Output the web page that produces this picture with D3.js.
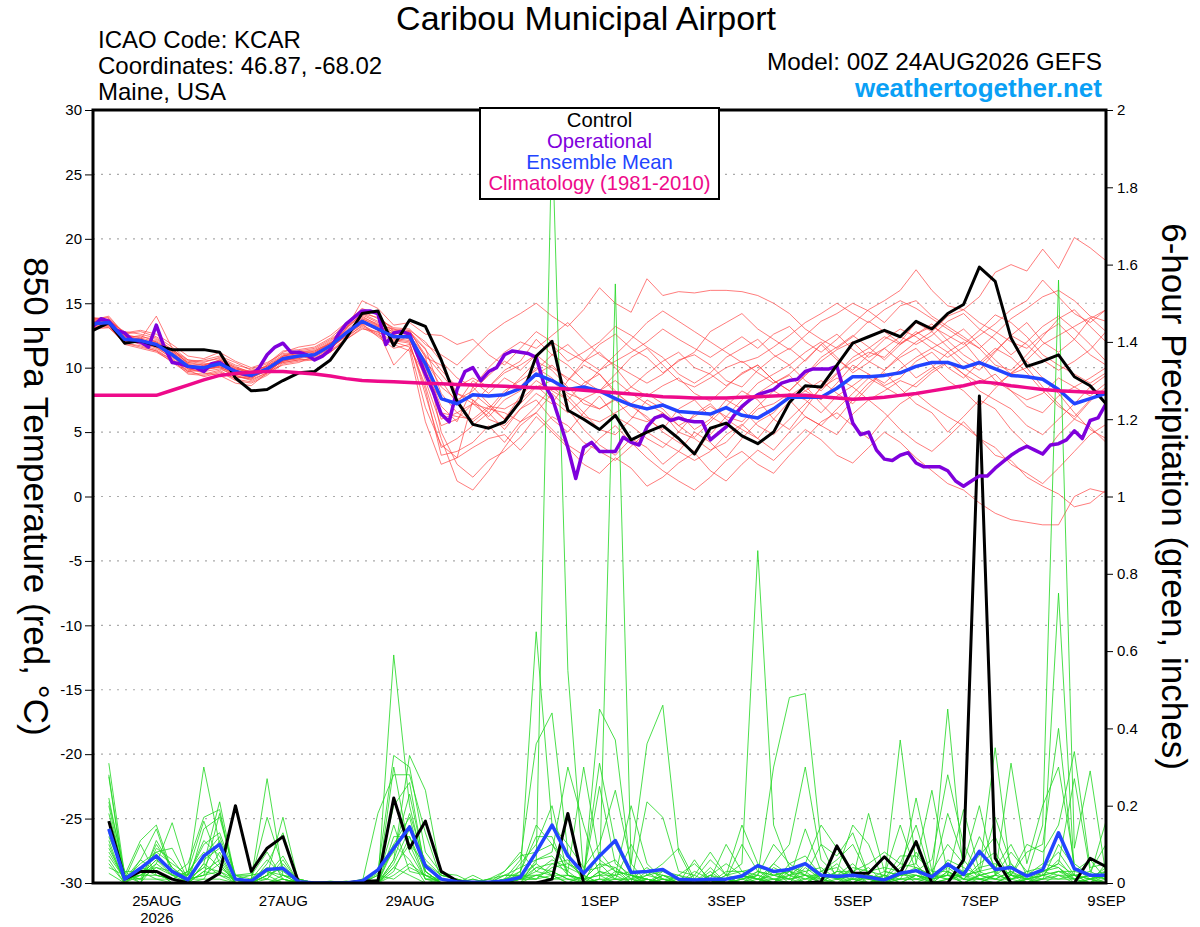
<!DOCTYPE html>
<html>
<head>
<meta charset="utf-8">
<script src="https://cdn.jsdelivr.net/npm/d3@7"></script>
<style>
body { margin: 0; background: #fff; }
svg text { font-family: "Liberation Sans", Arial, Helvetica, sans-serif; fill: #000; }
</style>
</head>
<body>
<svg id="chart" width="1200" height="927"></svg>
<script>
// 850 hPa temperature, 6-hourly from 00Z 24AUG2026 (65 steps)
const controlTemp = [12.9,13.5,11.9,12.1,11.7,11.4,11.4,11.4,11.2,9.2,8.2,8.3,9.0,9.6,9.7,10.6,12.3,14.2,14.4,11.7,13.7,13.2,
  10.6,7.4,5.6,5.3,5.8,7.4,10.9,12.05,6.7,6.0,5.2,6.3,4.4,5.0,5.5,4.5,3.3,5.3,5.7,4.7,4.1,
  5.0,7.3,8.6,8.5,10.2,11.9,12.4,12.9,12.4,13.6,13.0,14.2,14.9,17.8,16.7,12.3,10.1,10.5,11.0,9.3,8.6,7.2]
const meanTemp = [13.4,13.5,12.2,12.1,11.8,11.0,10.1,10.0,10.3,9.7,9.4,9.9,10.7,10.9,11.0,11.7,12.7,13.6,13.0,12.4,12.4,10.3,
  7.6,7.2,7.9,7.8,7.9,8.4,9.5,9.0,8.3,8.5,8.2,7.6,7.1,6.8,7.1,6.6,6.5,6.4,6.9,6.3,6.1,
  6.8,7.7,7.7,7.7,8.4,9.3,9.3,9.4,9.6,10.1,10.4,10.4,10.0,10.4,9.9,9.4,9.3,9.1,8.3,7.2,7.6,8.0]
const climTemp = [7.85,7.85,7.85,7.85,7.85,8.25,8.65,9.05,9.4,9.55,9.65,9.7,9.7,9.6,9.5,9.35,9.15,9.0,8.95,8.9,8.85,8.8,
  8.75,8.7,8.65,8.6,8.55,8.5,8.45,8.4,8.35,8.25,8.15,8.05,7.95,7.85,7.75,7.7,7.65,7.65,7.65,7.7,7.75,
  7.8,7.85,7.85,7.75,7.65,7.55,7.6,7.7,7.85,8.0,8.2,8.4,8.6,8.9,8.8,8.6,8.45,8.3,8.2,8.15,8.1,8.1]
// operational run is 3-hourly (129 steps)
const operTemp = [13.2,13.8,13.6,12.9,12.7,12.1,12.0,11.6,13.3,11.6,10.4,10.3,10.1,10.0,9.7,10.3,10.4,10.0,9.7,9.5,9.4,10.0,
  11.0,11.6,11.9,11.2,11.2,11.0,10.6,10.9,11.4,12.6,13.4,13.9,14.4,14.4,14.2,11.8,12.7,12.8,12.6,11.0,9.5,
  8.1,6.4,5.8,8.3,9.7,10.0,9.0,9.7,10.0,11.0,11.3,11.2,11.1,10.8,8.7,7.7,5.8,3.8,1.4,3.8,4.2,3.5,3.5,3.5,
  4.6,4.2,4.0,5.4,6.1,6.3,5.9,6.1,5.9,5.8,5.8,4.4,4.9,5.4,6.3,7.0,7.5,7.9,
  8.1,8.3,8.8,9.0,9.1,9.7,9.9,9.9,9.9,10.1,8.0,5.7,4.8,5.0,3.6,2.9,2.8,3.2,3.4,2.6,2.3,2.3,2.3,2.0,
  1.2,0.8,1.2,1.6,1.6,2.2,2.7,3.2,3.6,3.9,3.6,3.3,4.0,4.1,4.4,5.1,4.5,5.9,6.1,7.2]

// ensemble members (one row per member, 65 steps)
const ensTemp = [
  [13.8,13.9,12.6,12.8,12.4,11.6,10.6,10.4,10.8,10.2,9.9,10.3,11.3,11.4,11.6,12.3,13.4,14.4,13.8,13.1,13.0,11.8,11.0,10.2,11.4,12.6,13.5,14.2,15.0,14.0,13.2,14.5,16.2,15.0,14.3,16.9,15.6,15.9,15.8,16.0,16.0,15.9,15.6,15.0,14.2,13.0,12.2,11.5,12.4,13.6,12.8,11.9,12.6,13.4,12.1,11.0,10.2,11.3,12.5,11.8,10.6,9.8,10.5,11.4,12.8],
  [13.1,13.2,11.9,11.6,11.3,10.4,9.6,9.5,9.8,9.1,8.9,9.5,10.4,10.6,10.7,11.4,12.6,13.8,13.2,12.8,12.2,9.5,6.5,6.2,6.0,7.0,6.0,7.2,8.5,9.0,7.8,6.5,5.2,4.8,6.0,7.5,6.8,5.5,4.6,5.8,7.0,8.2,7.5,6.0,5.2,6.8,8.5,9.6,10.5,11.2,10.8,12.0,13.5,12.8,14.0,14.5,15.5,17.4,18.0,17.5,19.2,17.7,20.1,19.3,18.3],
  [13.6,13.4,12.4,12.2,14.0,11.5,10.3,9.8,10.5,9.9,9.6,9.8,10.5,10.8,11.1,11.6,12.4,13.2,12.6,11.9,12.5,10.9,5.0,2.5,1.5,2.8,3.5,4.6,6.2,5.0,3.8,2.5,1.8,3.0,2.2,0.8,1.5,2.6,3.4,2.0,1.2,2.5,3.6,2.8,4.0,5.2,4.4,3.2,2.6,3.8,5.0,4.2,3.0,2.0,1.0,0.5,-0.5,-1.3,-1.8,-2.0,-2.2,-2.2,0.0,0.6,0.3],
  [13.2,13.8,12.0,12.3,11.6,10.7,9.7,10.2,10.0,9.3,9.1,10.2,11.0,11.2,11.3,12.0,13.2,14.1,13.5,12.9,12.8,11.0,9.5,8.0,7.5,6.0,5.5,6.8,8.0,7.2,9.0,10.2,9.5,8.2,7.0,6.2,5.0,4.2,3.5,4.8,6.2,7.5,8.8,9.5,10.2,9.0,8.2,9.5,10.8,11.5,12.4,11.8,12.6,13.2,12.5,11.8,12.9,14.1,13.5,12.4,11.0,10.2,9.5,8.8,9.6],
  [13.5,13.6,12.5,11.9,12.1,11.3,10.4,10.6,10.9,10.4,9.8,10.1,10.9,11.1,10.8,11.5,12.5,13.4,12.4,11.5,11.8,8.6,4.5,1.2,0.5,2.0,3.8,5.5,6.5,8.0,6.8,5.2,4.0,3.2,4.5,3.8,2.5,3.5,5.0,4.2,3.0,4.5,5.8,6.5,7.8,8.6,7.2,6.0,7.5,8.8,9.6,8.4,7.2,6.5,5.0,6.2,7.5,6.8,5.2,4.0,3.2,4.8,6.0,5.4,4.2],
  [13.3,13.1,12.1,12.0,11.5,10.8,9.9,9.6,9.4,8.8,8.6,9.6,10.6,10.7,11.2,11.9,12.9,13.9,13.4,12.2,12.0,7.9,3.8,4.5,5.5,6.5,5.2,6.8,7.5,6.0,5.0,6.5,7.8,6.2,5.5,4.5,3.8,5.0,6.4,7.2,6.0,5.2,4.5,6.0,7.4,8.2,9.0,8.0,7.2,8.5,9.8,10.8,11.5,10.2,9.0,8.2,7.0,8.4,9.6,10.5,9.2,8.0,6.5,5.2,4.5],
  [13.7,13.5,12.3,12.5,12.0,11.2,10.2,10.1,10.6,10.0,9.5,9.7,10.2,10.4,10.9,11.8,13.0,15.2,14.6,13.3,13.5,12.6,12.5,11.8,12.2,11.0,10.2,11.5,12.8,12.0,11.2,10.5,11.8,12.6,11.5,10.8,9.6,10.5,11.2,12.8,13.5,14.2,13.0,12.2,11.4,12.5,13.6,14.2,15.0,14.4,13.5,14.8,15.2,14.0,13.2,12.4,11.5,10.2,9.8,11.0,12.4,13.8,14.5,13.2,12.0],
  [13.0,13.4,12.2,11.8,11.4,10.6,9.8,9.3,9.6,9.2,9.3,10.0,10.8,11.0,10.6,11.2,12.2,13.0,12.8,12.0,11.6,6.9,4.0,3.0,7.5,6.5,8.0,9.2,10.5,9.8,8.5,7.2,6.8,7.5,6.2,5.8,6.5,5.0,4.5,3.6,4.2,5.5,6.8,7.2,8.0,7.5,6.5,7.8,8.6,9.5,8.8,9.9,10.8,11.5,12.2,13.0,11.8,10.6,9.5,10.0,8.5,7.2,6.0,7.4,8.5],
  [13.9,13.7,12.7,12.9,12.6,11.8,10.9,10.7,11.2,10.5,10.0,10.4,11.1,11.2,11.4,12.1,13.1,14.0,13.3,12.6,12.9,12.0,10.5,9.2,8.5,10.0,11.2,12.0,11.5,12.5,13.5,12.2,11.0,10.2,9.5,8.8,9.5,10.6,11.0,10.2,9.0,8.5,9.8,10.8,11.5,10.5,11.8,12.6,11.4,10.5,9.8,11.0,12.0,12.8,11.6,10.5,9.8,11.2,12.5,13.5,12.0,11.2,12.2,13.8,14.5],
  [13.4,13.6,12.3,12.0,11.9,11.1,10.0,9.9,10.1,9.5,9.2,9.8,10.5,10.9,11.0,11.6,12.6,13.5,12.9,12.3,12.1,10.0,7.0,5.8,8.5,7.2,6.0,7.8,9.0,8.2,7.5,8.8,9.5,8.0,7.2,6.0,5.2,6.8,7.5,6.2,5.5,6.8,8.0,8.8,9.4,8.2,7.5,8.8,10.2,9.5,8.6,9.2,10.5,11.2,10.0,9.2,10.4,11.5,10.8,9.6,8.2,7.0,6.2,7.5,8.2],
  [13.2,13.3,11.8,11.5,11.2,10.5,9.7,9.8,10.2,9.6,9.4,9.9,10.9,11.3,11.5,12.2,13.1,14.2,13.9,13.0,12.6,9.0,5.5,6.0,7.2,6.2,7.5,8.2,9.5,10.2,9.0,10.5,11.2,10.0,8.5,7.8,8.6,9.2,8.0,7.4,8.5,9.6,10.2,9.0,8.2,9.4,10.5,11.4,12.0,10.8,11.5,12.4,11.8,12.5,13.6,14.2,13.0,12.2,11.0,12.0,13.2,14.0,13.0,11.8,10.5],
  [13.6,13.7,12.4,12.4,12.2,11.4,10.5,10.3,10.4,9.9,9.7,10.0,10.4,10.6,10.7,11.3,12.3,13.3,12.7,12.5,12.3,10.6,8.5,7.5,8.2,9.4,10.5,9.8,11.0,11.8,10.5,11.2,12.0,13.2,12.5,11.6,10.8,9.5,8.8,9.6,10.8,11.5,12.2,11.0,10.2,11.2,12.0,10.8,9.6,10.4,11.5,10.5,9.2,10.0,11.2,12.0,10.5,9.0,8.2,7.5,8.0,9.2,8.5,7.8,8.8],
  [13.1,13.3,12.0,12.1,11.7,10.9,9.9,9.7,9.9,9.4,9.0,9.6,10.6,10.8,11.1,11.9,12.8,13.7,13.1,12.1,11.9,8.3,3.2,3.5,4.2,5.5,4.2,5.8,6.5,5.2,4.0,3.2,4.5,5.5,4.2,3.0,2.0,1.2,0.5,1.5,2.8,3.5,2.5,1.8,3.2,4.5,5.8,6.5,5.5,4.5,6.0,7.2,8.0,7.0,6.2,5.5,4.5,3.8,2.5,1.8,1.0,2.2,3.5,4.8,5.6],
  [13.8,13.6,12.8,12.6,12.3,11.4,10.6,10.5,10.7,10.1,9.6,10.2,11.2,11.6,11.8,12.5,13.5,14.6,14.1,12.8,12.7,11.4,9.8,8.5,9.2,8.5,9.6,10.2,11.0,10.0,9.2,8.5,9.8,10.5,11.2,12.0,13.0,12.2,11.5,10.8,11.6,12.4,11.5,12.6,13.2,12.0,11.2,12.2,13.4,14.5,15.2,16.0,17.6,16.0,14.8,14.5,13.5,12.8,12.0,11.5,12.6,13.4,12.2,11.0,10.2],
  [13.3,13.4,12.1,11.9,11.6,10.9,10.0,9.9,10.0,9.6,9.3,9.7,10.5,10.7,10.9,11.5,12.5,13.4,13.0,12.4,12.6,9.8,6.0,6.5,7.2,6.8,6.5,5.8,7.0,8.5,7.5,6.2,5.8,6.5,7.2,8.0,7.2,6.5,5.2,6.0,7.5,6.8,5.5,4.8,6.0,7.2,8.4,9.2,8.5,7.5,8.2,9.0,8.5,9.6,10.4,9.5,8.8,9.5,8.2,7.0,6.5,7.8,8.5,9.2,10.0],
  [13.5,13.8,12.5,12.2,11.9,11.2,10.3,10.2,10.5,9.8,9.5,10.0,10.8,11.0,11.3,11.9,12.8,13.8,13.3,13.0,12.9,10.8,10.2,8.0,7.2,8.5,9.8,10.5,12.2,11.0,10.2,9.0,8.2,9.5,10.8,11.5,10.2,9.0,8.5,9.2,10.0,10.5,9.6,8.8,9.5,10.6,11.8,10.6,9.8,11.0,12.2,13.0,12.4,11.5,10.8,11.6,12.5,13.4,14.5,15.2,16.8,15.5,14.2,13.5,14.5],
  [13.0,13.1,11.9,11.7,11.3,10.6,9.5,9.4,9.7,9.0,8.8,9.4,10.3,10.5,10.6,11.2,12.2,13.1,12.5,11.8,11.3,5.8,2.5,3.0,3.8,4.5,4.8,3.6,5.0,6.2,5.5,4.2,3.5,2.8,3.9,5.0,4.2,3.5,2.8,3.5,4.8,5.6,4.5,3.6,5.0,6.2,5.5,4.8,6.4,7.5,6.5,5.2,4.2,3.5,4.6,5.8,4.5,3.2,2.8,1.5,0.8,0.2,-0.8,-0.5,0.5],
  [13.7,14.0,12.6,12.3,12.0,11.3,10.4,10.2,10.6,10.0,9.7,10.1,10.9,11.1,11.2,11.9,13.0,14.2,13.6,12.7,12.8,11.5,8.0,6.5,5.8,6.8,8.2,9.0,9.8,11.0,11.8,10.6,9.8,11.0,12.2,13.5,14.4,13.6,12.8,12.0,11.2,10.4,10.8,11.6,12.5,13.5,14.2,15.0,14.2,13.5,14.5,15.2,14.6,13.8,13.0,12.2,11.5,12.6,13.8,14.6,15.5,16.0,15.2,14.0,13.6],
  [13.4,13.5,12.2,12.0,11.7,11.0,10.1,10.0,10.2,9.6,9.2,9.8,10.6,10.9,11.0,11.7,12.7,13.6,12.9,10.2,11.5,9.4,7.5,7.2,8.0,7.0,6.8,7.5,8.6,7.5,6.5,7.6,8.2,9.0,8.0,7.2,6.5,5.5,6.2,7.0,6.2,5.8,7.0,8.2,7.5,6.2,5.5,6.8,8.0,9.2,8.5,7.8,8.8,9.8,10.5,9.5,8.2,7.5,6.8,5.5,4.8,6.0,7.2,8.5,9.4],
  [13.6,13.3,12.3,12.1,11.8,10.9,10.0,9.8,10.1,9.4,9.1,9.6,10.6,10.9,11.0,11.6,12.6,13.5,13.2,12.6,12.2,10.5,9.0,7.2,9.0,8.0,9.2,8.5,10.0,9.2,8.0,7.5,6.8,7.6,8.5,9.6,10.5,11.2,10.0,9.5,8.6,9.5,10.2,9.0,8.2,9.4,10.8,11.6,12.5,11.6,10.6,11.8,12.8,12.0,11.2,10.0,9.2,8.6,9.5,10.6,11.8,12.5,13.2,13.9,12.8]
]

// 6-hour precipitation (inches), steps from 06Z 24AUG to 00Z 9SEP (64 steps)
const controlPrecip = [0.16,0.01,0.03,0.03,0.01,0,0,0.025,0.2,0.03,
  0.09,0.12,0,0,0,0,0.005,0.005,0.22,0.09,
  0.16,0.03,0.005,0,0,0,0,0,0.01,0.18,
  0,0,0,0,0,0,0,0,0,0,
  0,0,0,0,0,0.003,0.096,0.025,0.025,0.068,
  0.025,0.107,0,0,0.06,1.26,0.064,0,0,0,
  0,0,0.064,0.042]
const meanPrecip = [0.14,0.01,0.038,0.07,0.03,0.008,0.07,0.1,0.01,0.005,
  0.035,0.038,0.003,0,0,0,0.005,0.034,0.09,0.145,
  0.044,0.01,0.003,0.002,0.002,0.005,0.015,0.08,0.15,0.07,
  0.025,0.07,0.11,0.027,0.03,0.035,0.01,0.008,0.01,0.01,
  0.018,0.045,0.03,0.035,0.05,0.02,0.017,0.02,0.015,0.008,
  0.025,0.032,0.016,0.049,0.022,0.082,0.035,0.04,0.018,0.034,
  0.13,0.037,0.02,0.02]
// one row per 6-hour step, 20 member values each
const ensPrecip = [
  [0.31,0.28,0.275,0.21,0.16,0.12,0.10,0.08,0.04,0.025,0.2,0.14,0.06,0.18,0.09,0.05,0.22,0.13,0.11,0.07],
  [0.02,0.01,0,0.03,0.01,0.02,0,0.01,0.02,0,0.01,0.03,0,0.02,0.01,0,0.02,0.01,0,0.01],
  [0.11,0.02,0.06,0.03,0.1,0,0.04,0.02,0.01,0.03,0.05,0,0.02,0.01,0.06,0.03,0.02,0.04,0,0.01],
  [0.15,0.05,0.14,0.08,0.02,0.11,0.03,0.06,0.04,0.01,0.08,0.05,0.02,0.1,0.03,0.04,0.06,0.02,0.09,0.01],
  [0.03,0.156,0.02,0.09,0.01,0.04,0,0.02,0.03,0.01,0.05,0.02,0.01,0.04,0,0.02,0.03,0.01,0.06,0],
  [0,0.02,0.05,0.01,0.03,0,0.01,0.02,0,0.01,0.02,0,0.03,0.01,0,0.01,0.02,0,0.01,0],
  [0.05,0.30,0.17,0.02,0.16,0.14,0.04,0.11,0.07,0.02,0.06,0.03,0.08,0.01,0.05,0.02,0.1,0.03,0.04,0.01],
  [0.21,0.1,0.19,0.18,0.05,0.17,0.11,0.07,0.12,0.03,0.09,0.06,0.04,0.08,0.02,0.05,0.13,0.02,0.03,0.01],
  [0.01,0.02,0,0.01,0,0.02,0.01,0,0.01,0,0.02,0,0.01,0,0.01,0,0.02,0,0.01,0],
  [0,0.025,0.01,0,0.01,0,0.02,0.01,0,0,0.01,0,0,0.01,0,0,0.02,0,0,0],
  [0.02,0.01,0.27,0.02,0.17,0.05,0.08,0.01,0.03,0,0.04,0.02,0,0.06,0.01,0,0.03,0,0.02,0],
  [0.07,0,0.02,0.17,0.04,0.13,0.01,0.05,0.02,0.01,0.03,0.04,0,0.02,0.06,0,0.01,0.02,0,0.01],
  [0,0.01,0,0,0.01,0,0,0,0.01,0,0,0,0,0.01,0,0,0,0,0,0],
  [0,0,0,0,0,0,0,0,0,0,0,0,0,0,0,0,0,0,0,0],
  [0,0,0,0.005,0,0,0,0,0,0,0,0,0,0,0,0,0,0,0,0],
  [0,0,0,0,0,0,0,0.005,0,0,0,0,0,0,0,0,0,0,0,0],
  [0,0.005,0,0,0,0,0,0,0,0,0.01,0,0,0,0,0,0,0,0,0],
  [0,0,0,0.03,0,0.18,0,0.02,0,0.025,0,0,0.01,0,0.03,0,0,0.02,0,0],
  [0.59,0.06,0.12,0.33,0.02,0.28,0.04,0.2,0.1,0.08,0.30,0.05,0.15,0.03,0.1,0.06,0.22,0.01,0.09,0.04],
  [0.2,0.33,0.12,0.3,0.05,0.28,0.1,0.26,0.17,0.23,0.08,0.14,0.03,0.12,0.06,0.18,0.1,0.04,0.15,0.02],
  [0.03,0.24,0.01,0.08,0.02,0.13,0.05,0.03,0.02,0.04,0.01,0.06,0.02,0.03,0,0.05,0.01,0.02,0.03,0],
  [0,0.02,0.01,0.025,0,0.01,0.02,0,0.01,0.01,0,0.02,0,0,0.01,0,0.01,0,0,0],
  [0,0.01,0,0.02,0,0,0.01,0,0,0,0,0.01,0,0,0,0,0,0,0,0],
  [0,0,0,0,0.01,0,0,0,0.02,0,0,0,0,0.01,0,0,0,0,0,0],
  [0.01,0,0,0,0,0.01,0,0,0,0,0.01,0,0,0,0,0,0,0,0,0],
  [0.03,0,0.02,0.01,0,0.02,0,0.01,0,0.03,0,0.01,0,0.02,0,0,0.01,0,0,0],
  [0.07,0.05,0.02,0.06,0.01,0.04,0,0.03,0.01,0.08,0.02,0.01,0.03,0.02,0,0.01,0.02,0.01,0,0.01],
  [0.08,0.1,0.65,0.36,0.05,0.06,0.04,0.12,0.02,0.03,0.05,0.01,0.15,0.02,0.06,0.03,0.01,0.04,0.02,0.01],
  [0.1,0.2,0.15,0.44,1.95,0.08,0.05,0.12,0.03,0.06,0.02,0.04,0.1,0.01,0.07,0.02,0.05,0.03,0.01,0.02],
  [0.05,0.02,0.1,0.08,0.55,0.3,0.03,0.02,0.01,0.04,0.02,0.05,0.03,0.01,0.02,0,0.06,0.01,0.02,0],
  [0.02,0.01,0.04,0,0.02,0.15,0.30,0.01,0,0.02,0.01,0.03,0,0.01,0,0.02,0.01,0,0.01,0],
  [0.25,0.05,0.1,0.03,0,0.02,0.06,0.45,0.01,0.31,0.02,0.04,0.01,0,0.03,0,0.05,0.01,0.02,0.08],
  [0.05,0.01,0.24,0.02,0.01,0.04,0.03,0.37,1.55,0.1,0.02,0.06,0,0.03,0.01,0.02,0.04,0.01,0,0.03],
  [0.02,0.1,0.05,0.2,0,0.01,0.02,0.03,0.05,0.02,0,0.01,0.02,0,0.01,0.03,0,0.01,0,0.02],
  [0.01,0.02,0.36,0.05,0.21,0,0.01,0.03,0,0.01,0.02,0.04,0,0.01,0.02,0,0.03,0,0.01,0],
  [0,0.05,0.46,0.01,0.17,0.03,0,0.02,0.01,0,0.03,0.01,0.02,0,0.01,0.02,0,0.01,0,0.02],
  [0.02,0.09,0.08,0,0.03,0.01,0.02,0,0.01,0,0.02,0,0.01,0,0,0.01,0,0,0.01,0],
  [0.05,0.01,0,0.06,0.02,0,0.01,0.03,0,0.01,0,0.02,0,0.01,0,0,0.01,0,0,0],
  [0.01,0.06,0.02,0,0.08,0.04,0,0.01,0.02,0,0.01,0,0.03,0,0.01,0,0,0.02,0,0],
  [0.1,0.02,0.05,0.01,0.02,0,0.03,0,0.01,0.02,0,0.01,0,0.02,0,0.01,0,0,0.01,0],
  [0.03,0.15,0.02,0.1,0.05,0.01,0.03,0.02,0,0.01,0.02,0,0.01,0.03,0,0.02,0,0.01,0,0.02],
  [0.02,0.05,0.01,0.03,0.86,0.02,0.04,0.01,0,0.02,0.01,0.03,0,0.01,0.02,0,0.01,0.03,0,0.01],
  [0.1,0.02,0.05,0.01,0.15,0.3,0.03,0.02,0.04,0,0.01,0.02,0.05,0,0.01,0.03,0,0.02,0.01,0],
  [0.05,0.03,0.1,0.02,0.04,0.48,0.01,0.03,0.02,0.05,0,0.01,0.02,0.04,0.01,0,0.03,0.01,0,0.02],
  [0.07,0.02,0.3,0.05,0.02,0.49,0.14,0.01,0.03,0.02,0.05,0,0.01,0.03,0.02,0.04,0,0.02,0.01,0],
  [0.02,0.1,0.06,0.15,0.01,0.1,0.03,0.02,0.04,0,0.01,0.02,0.03,0,0.02,0.01,0.03,0,0.01,0.02],
  [0.05,0.07,0.02,0.09,0.03,0.01,0.06,0.02,0.01,0.03,0,0.02,0.04,0.01,0,0.02,0.01,0.03,0,0.01],
  [0.01,0.13,0.03,0.02,0.15,0.04,0.1,0.01,0.02,0.03,0.01,0.05,0,0.02,0.03,0,0.01,0.02,0.01,0],
  [0.18,0.02,0.05,0.01,0.1,0.03,0.02,0.01,0.04,0,0.02,0.01,0.03,0,0.01,0.02,0,0.01,0,0.02],
  [0.03,0.01,0.08,0.02,0,0.04,0.01,0.03,0,0.02,0.01,0,0.02,0.01,0,0.01,0.02,0,0.01,0],
  [0.02,0.37,0.05,0.15,0.01,0.03,0.07,0.02,0.04,0.01,0.03,0.02,0,0.05,0.01,0.02,0,0.03,0.01,0.02],
  [0.22,0.05,0.15,0.03,0.08,0.02,0.07,0.04,0.05,0.02,0.01,0.03,0.02,0.04,0.01,0.03,0.02,0,0.01,0.02],
  [0.03,0.24,0.01,0.06,0.02,0.01,0.03,0.02,0,0.01,0.02,0,0.01,0.02,0,0.01,0,0.02,0.01,0],
  [0.1,0.02,0.45,0.28,0.05,0.18,0.03,0.02,0.06,0.04,0.01,0.03,0.02,0.05,0.01,0.02,0.03,0.01,0.02,0.01],
  [0.05,0.19,0.02,0.1,0.03,0.06,0.01,0.02,0.04,0.01,0.03,0,0.02,0.01,0.02,0,0.01,0.02,0,0.01],
  [0.2,0.03,0.12,0.02,0.07,0.01,0.05,0.03,0.02,0.04,0.01,0.02,0.03,0,0.01,0.02,0.01,0,0.02,0.01],
  [0.02,0.35,0.04,0.17,0.12,0.02,0.08,0.01,0.03,0.05,0.02,0.01,0.04,0.02,0.01,0.03,0,0.02,0.01,0],
  [0.31,0.02,0.1,0.05,0.02,0.08,0.01,0.03,0.04,0.02,0.05,0.01,0.02,0.01,0.03,0,0.02,0.01,0,0.02],
  [0.05,0.1,0.02,0.01,0.08,0.03,0.02,0.01,0.02,0.01,0,0.03,0.01,0.02,0,0.01,0.02,0,0.01,0],
  [0.2,0.08,0.15,0.03,0.1,0.02,0.05,0.01,0.03,0.02,0.01,0.04,0.02,0.03,0.01,0.02,0.01,0.03,0,0.02],
  [0.3,0.15,1.56,0.05,0.4,0.75,0.04,0.1,0.02,0.06,0.03,0.08,0.01,0.05,0.02,0.03,0.01,0.04,0.02,0.03],
  [0.05,0.34,0.09,0.27,0.03,0.02,0.01,0.04,0.02,0.01,0.03,0.02,0.01,0.02,0,0.01,0.02,0,0.01,0.02],
  [0.02,0.04,0.29,0.03,0.06,0.01,0.02,0.01,0.03,0,0.02,0.01,0.02,0,0.01,0.02,0,0.01,0,0.01],
  [0.16,0.05,0.02,0.1,0.01,0.04,0.03,0.02,0.01,0.05,0,0.02,0.01,0.03,0,0.01,0.02,0,0.01,0.03]
]

const tempTicks = [30,25,20,15,10,5,0,-5,-10,-15,-20,-25,-30]
const tempGrid = [25,20,15,10,5,0,-5,-10,-15,-20,-25]
const precipTickLabels = ["0","0.2","0.4","0.6","0.8","1","1.2","1.4","1.6","1.8","2"]
const dateTicks = ["2026-08-25","2026-08-27","2026-08-29","2026-09-01","2026-09-03","2026-09-05","2026-09-07","2026-09-09"]
const dateLabels = ["25AUG","27AUG","29AUG","1SEP","3SEP","5SEP","7SEP","9SEP"]
const legendItems = [
  {name: "Control", color: "#000000"},
  {name: "Operational", color: "#7f00dc"},
  {name: "Ensemble Mean", color: "#2244ff"},
  {name: "Climatology (1981-2010)", color: "#ee0a8a"}
]

const L = 93, R = 1106, T = 110, B = 883
const t0 = Date.UTC(2026, 7, 24)
const hr = 3600e3
const svg = d3.select("#chart")

const x = d3.scaleUtc().domain([new Date(t0), new Date(t0 + 384 * hr)]).range([L, R])
const yT = d3.scaleLinear().domain([-30, 30]).range([B, T])
const yP = d3.scaleLinear().domain([0, 2]).range([B, T])

// lines: step is hours between points, first is hours of the first point
const tLine = (step, first) => d3.line().x((d, i) => x(new Date(t0 + (first + i * step) * hr))).y(d => yT(d))
const pLine = d3.line().x((d, i) => x(new Date(t0 + (6 + i * 6) * hr))).y(d => yP(d))

svg.append("clipPath").attr("id", "clip").append("rect")
  .attr("x", L).attr("y", T).attr("width", R - L).attr("height", B - T)

// grid
svg.append("g").selectAll("line").data(tempGrid).enter().append("line")
  .attr("x1", L).attr("x2", R).attr("y1", d => yT(d)).attr("y2", d => yT(d))
  .attr("stroke", "#aaa").attr("stroke-width", 1.2).attr("stroke-dasharray", "2,6")

const plot = svg.append("g").attr("clip-path", "url(#clip)")

// ensemble temperature
plot.append("g").selectAll("path").data(ensTemp).enter().append("path")
  .attr("d", tLine(6, 0)).attr("fill", "none")
  .attr("stroke", "#ff3b3b").attr("stroke-width", 0.9).attr("stroke-opacity", 0.75)

// ensemble precip, transposed to one series per member
const precipMembers = d3.range(ensPrecip[0].length).map(m => ensPrecip.map(row => row[m]))
plot.append("g").selectAll("path").data(precipMembers).enter().append("path")
  .attr("d", pLine).attr("fill", "none")
  .attr("stroke", "#22d822").attr("stroke-width", 0.9).attr("stroke-opacity", 0.9)

plot.append("path").datum(controlPrecip).attr("d", pLine).attr("fill", "none")
  .attr("stroke", "#000").attr("stroke-width", 3).attr("stroke-linejoin", "round")
plot.append("path").datum(meanPrecip).attr("d", pLine).attr("fill", "none")
  .attr("stroke", "#2244ff").attr("stroke-width", 3.5).attr("stroke-linejoin", "round")

plot.append("path").datum(operTemp).attr("d", tLine(3, 0)).attr("fill", "none")
  .attr("stroke", "#7f00dc").attr("stroke-width", 3.5).attr("stroke-linejoin", "round")
plot.append("path").datum(controlTemp).attr("d", tLine(6, 0)).attr("fill", "none")
  .attr("stroke", "#000").attr("stroke-width", 3).attr("stroke-linejoin", "round")
plot.append("path").datum(meanTemp).attr("d", tLine(6, 0)).attr("fill", "none")
  .attr("stroke", "#2244ff").attr("stroke-width", 3.5).attr("stroke-linejoin", "round")
plot.append("path").datum(climTemp).attr("d", tLine(6, 0)).attr("fill", "none")
  .attr("stroke", "#ee0a8a").attr("stroke-width", 3.5).attr("stroke-linejoin", "round")

// axes
const left = svg.append("g").attr("transform", `translate(${L},0)`)
  .call(d3.axisLeft(yT).tickValues(tempTicks).tickSize(8).tickPadding(3).tickFormat(d => String(d)))
left.select(".domain").remove()
left.selectAll("text").attr("font-size", 15).attr("font-family", null)

const right = svg.append("g").attr("transform", `translate(${R},0)`)
  .call(d3.axisRight(yP).tickValues(precipTickLabels.map(Number)).tickSize(7).tickPadding(4)
    .tickFormat((d, i) => precipTickLabels[i]))
right.select(".domain").remove()
right.selectAll("text").attr("font-size", 15).attr("font-family", null)

const bottom = svg.append("g").attr("transform", `translate(0,${B})`)
  .call(d3.axisBottom(x).tickValues(dateTicks.map(s => new Date(s + "T00:00:00Z"))).tickSize(0).tickPadding(12)
    .tickFormat((d, i) => dateLabels[i]))
bottom.select(".domain").remove()
bottom.selectAll("text").attr("font-size", 15).attr("font-family", null)
bottom.select(".tick text").append("tspan").attr("x", 0).attr("dy", "1.15em").text("2026")

// frame
svg.append("rect").attr("x", L).attr("y", T).attr("width", R - L).attr("height", B - T)
  .attr("fill", "none").attr("stroke", "#000").attr("stroke-width", 3)

// axis titles
svg.append("text").attr("transform", `translate(24,${(T + B) / 2}) rotate(90)`)
  .attr("text-anchor", "middle").attr("font-size", 35).text("850 hPa Temperature (red, °C)")
svg.append("text").attr("transform", `translate(1162,${(T + B) / 2}) rotate(90)`)
  .attr("text-anchor", "middle").attr("font-size", 35).text("6-hour Precipitation (green, inches)")

// header
svg.append("text").attr("x", 586).attr("y", 30).attr("text-anchor", "middle").attr("font-size", 34)
  .text("Caribou Municipal Airport")
const info = ["ICAO Code: KCAR", "Coordinates: 46.87, -68.02", "Maine, USA"]
svg.append("g").selectAll("text").data(info).enter().append("text")
  .attr("x", 98).attr("y", (d, i) => 48 + i * 26).attr("font-size", 24).text(d => d)
svg.append("text").attr("x", 1102).attr("y", 70).attr("text-anchor", "end").attr("font-size", 24.3)
  .text("Model: 00Z 24AUG2026 GEFS")
svg.append("text").attr("x", 1102).attr("y", 97).attr("text-anchor", "end").attr("font-size", 26)
  .attr("font-weight", "bold").style("fill", "#0aa0f5").text("weathertogether.net")

// legend
const lg = svg.append("g")
lg.append("rect").attr("x", 480).attr("y", 108).attr("width", 239).attr("height", 91)
  .attr("fill", "#fff").attr("stroke", "#000").attr("stroke-width", 2)
lg.selectAll("text.item").data(legendItems).enter().append("text").attr("class", "item")
  .attr("x", 599.5).attr("y", (d, i) => 127 + i * 21).attr("text-anchor", "middle").attr("font-size", 20.3)
  .style("fill", d => d.color).text(d => d.name)
</script>
</body>
</html>
